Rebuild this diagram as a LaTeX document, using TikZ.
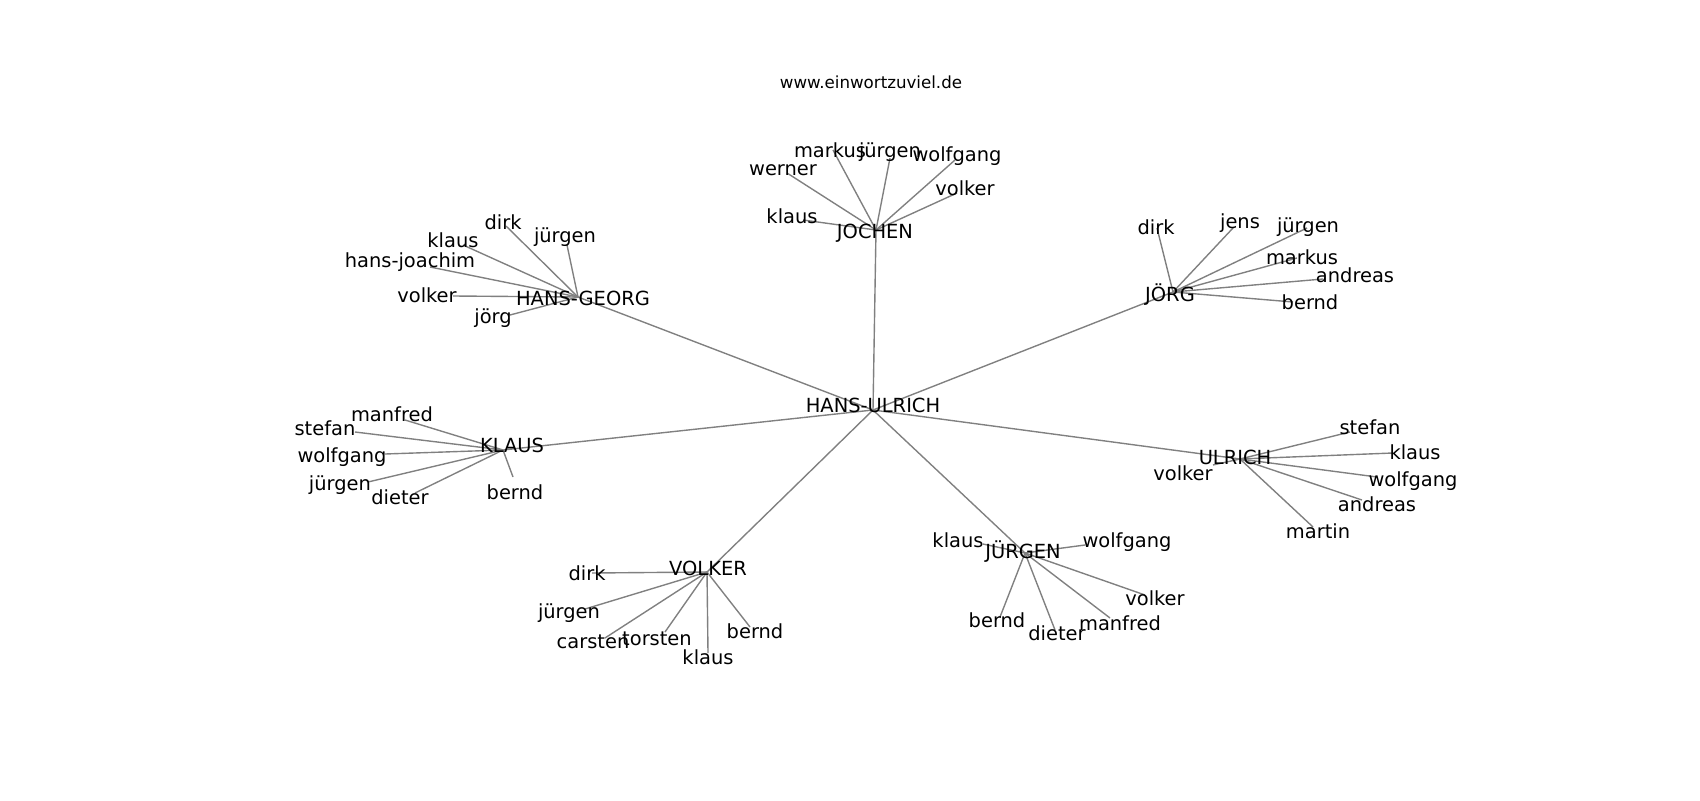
\documentclass[tikz,border=0pt]{standalone}
\usepackage{fontspec}
\setmainfont{DejaVu Sans}
\begin{document}
\begin{tikzpicture}[x=0.72pt,y=-0.72pt,
  lbl/.style={font=\fontsize{14}{16}\selectfont, inner sep=0pt, text=black},
  ttl/.style={font=\fontsize{12}{14}\selectfont, inner sep=0pt, text=black},
  edge/.style={draw=gray, line width=1pt}]
\useasboundingbox (0,0) rectangle (1700,800);
% hubs
\coordinate (hu) at (873,410);
\coordinate (hg) at (578,297);
\coordinate (jo) at (876,230);
\coordinate (joe) at (1173,292);
\coordinate (kl) at (503,450);
\coordinate (ul) at (1240,459);
\coordinate (jue) at (1025,553);
\coordinate (vo) at (707,572);
% HANS-GEORG leaves
\coordinate (hg1) at (506,226);
\coordinate (hg2) at (567,245);
\coordinate (hg3) at (463,245);
\coordinate (hg4) at (430,267);
\coordinate (hg5) at (453,296);
\coordinate (hg6) at (510,315);
% JOCHEN leaves
\coordinate (jo1) at (833,150);
\coordinate (jo2) at (890,158);
\coordinate (jo3) at (955,160);
\coordinate (jo4) at (787,173);
\coordinate (jo5) at (957,193);
\coordinate (jo6) at (803,220);
% JOERG leaves
\coordinate (joe1) at (1157,228);
\coordinate (joe2) at (1233,228);
\coordinate (joe3) at (1307,228);
\coordinate (joe4) at (1297,258);
\coordinate (joe5) at (1323,279);
\coordinate (joe6) at (1293,302);
% KLAUS leaves
\coordinate (kl1) at (405,420);
\coordinate (kl2) at (355,432);
\coordinate (kl3) at (385,454);
\coordinate (kl4) at (368,482);
\coordinate (kl5) at (415,493);
\coordinate (kl6) at (513,477);
% VOLKER leaves
\coordinate (vo1) at (592,573);
\coordinate (vo2) at (585,609);
\coordinate (vo3) at (605,638);
\coordinate (vo4) at (665,632);
\coordinate (vo5) at (708,653);
\coordinate (vo6) at (750,627);
% JUERGEN leaves
\coordinate (jue1) at (983,544);
\coordinate (jue2) at (1085,545);
\coordinate (jue3) at (1145,595);
\coordinate (jue4) at (1110,618);
\coordinate (jue5) at (1055,630);
\coordinate (jue6) at (1000,617);
% ULRICH leaves
\coordinate (ul1) at (1350,432);
\coordinate (ul2) at (1393,453);
\coordinate (ul3) at (1377,477);
\coordinate (ul4) at (1362,500);
\coordinate (ul5) at (1313,527);
\coordinate (ul6) at (1213,465);
% edges
\foreach \h in {hg,jo,joe,kl,ul,jue,vo} {\draw[edge] (hu) -- (\h);}
\foreach \h in {hg,jo,joe,kl,ul,jue,vo} {
  \foreach \i in {1,...,6} {\draw[edge] (\h) -- (\h\i);}
}
% title
\node[ttl] (title) at (871,82) {www.einwortzuviel.de};
% hub labels
\node[lbl] (lhu) at (873,405) {HANS-ULRICH};
\node[lbl] (lhg) at (583,298) {HANS-GEORG};
\node[lbl] (ljo) at (875,233) {JOCHEN};
\node[lbl] (ljoe) at (1170,295) {JÖRG};
\node[lbl] (lkl) at (512,445) {KLAUS};
\node[lbl] (lul) at (1235,457) {ULRICH};
\node[lbl] (ljue) at (1023,552) {JÜRGEN};
\node[lbl] (lvo) at (708,568) {VOLKER};
% HANS-GEORG leaf labels
\node[lbl] (lhg1) at (503,222) {dirk};
\node[lbl] (lhg2) at (565,237) {jürgen};
\node[lbl] (lhg3) at (453,240) {klaus};
\node[lbl] (lhg4) at (410,262) {hans-joachim};
\node[lbl] (lhg5) at (427,295) {volker};
\node[lbl] (lhg6) at (493,318) {jörg};
% JOCHEN leaf labels
\node[lbl] (ljo1) at (830,150) {markus};
\node[lbl] (ljo2) at (890,152) {jürgen};
\node[lbl] (ljo3) at (957,156) {wolfgang};
\node[lbl] (ljo4) at (783,170) {werner};
\node[lbl] (ljo5) at (965,188) {volker};
\node[lbl] (ljo6) at (792,216) {klaus};
% JOERG leaf labels
\node[lbl] (ljoe1) at (1156,227) {dirk};
\node[lbl] (ljoe2) at (1240,223) {jens};
\node[lbl] (ljoe3) at (1308,227) {jürgen};
\node[lbl] (ljoe4) at (1302,257) {markus};
\node[lbl] (ljoe5) at (1355,275) {andreas};
\node[lbl] (ljoe6) at (1310,302) {bernd};
% KLAUS leaf labels
\node[lbl] (lkl1) at (392,414) {manfred};
\node[lbl] (lkl2) at (325,428) {stefan};
\node[lbl] (lkl3) at (342,457) {wolfgang};
\node[lbl] (lkl4) at (340,485) {jürgen};
\node[lbl] (lkl5) at (400,497) {dieter};
\node[lbl] (lkl6) at (515,492) {bernd};
% VOLKER leaf labels
\node[lbl] (lvo1) at (587,573) {dirk};
\node[lbl] (lvo2) at (569,613) {jürgen};
\node[lbl] (lvo3) at (593,642) {carsten};
\node[lbl] (lvo4) at (657,639) {torsten};
\node[lbl] (lvo5) at (708,657) {klaus};
\node[lbl] (lvo6) at (755,631) {bernd};
% JUERGEN leaf labels
\node[lbl] (ljue1) at (958,540) {klaus};
\node[lbl] (ljue2) at (1127,542) {wolfgang};
\node[lbl] (ljue3) at (1155,598) {volker};
\node[lbl] (ljue4) at (1120,623) {manfred};
\node[lbl] (ljue5) at (1057,633) {dieter};
\node[lbl] (ljue6) at (997,620) {bernd};
% ULRICH leaf labels
\node[lbl] (lul1) at (1370,427) {stefan};
\node[lbl] (lul2) at (1415,452) {klaus};
\node[lbl] (lul3) at (1413,481) {wolfgang};
\node[lbl] (lul4) at (1377,504) {andreas};
\node[lbl] (lul5) at (1318,531) {martin};
\node[lbl] (lul6) at (1183,473) {volker};
\end{tikzpicture}
\end{document}
